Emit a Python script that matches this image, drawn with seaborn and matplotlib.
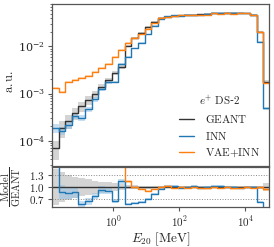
import numpy as np
import matplotlib
matplotlib.use("Agg")
import matplotlib.pyplot as plt
from matplotlib.ticker import NullLocator, FixedLocator, FixedFormatter
import seaborn as sns

# ===============================
# Data (bin contents, a.u.)
# ===============================

# log-spaced bins in E20 [MeV]
edges = 10 ** np.linspace(-1.85, 4.75, 34)

geant = [6.9e-5, 1.85e-4, 2.6e-4, 3.85e-4, 5.4e-4, 7.3e-4, 9.8e-4, 1.37e-3, 1.94e-3, 2.73e-3, 3.66e-3,
         1.03e-2, 1.52e-2, 1.94e-2, 2.6e-2, 3.32e-2, 4.04e-2, 4.24e-2, 4.46e-2, 4.57e-2, 4.68e-2, 4.68e-2,
         4.8e-2, 4.91e-2, 5.03e-2, 5.03e-2, 5.16e-2, 5.16e-2, 5.16e-2, 5.03e-2, 4.68e-2, 2.04e-2, 1.76e-3]

inn = [1.85e-4, 1.62e-4, 2.2e-4, 3.37e-4, 3.1e-4, 4.7e-4, 7.6e-4, 1.27e-3, 1.75e-3, 1.77e-3, 4.2e-3,
       6.0e-3, 9.1e-3, 1.2e-2, 1.82e-2, 2.72e-2, 3.84e-2, 4.37e-2, 4.55e-2, 4.48e-2, 4.68e-2, 4.77e-2,
       4.75e-2, 4.91e-2, 5.18e-2, 5.13e-2, 5.21e-2, 5.16e-2, 5.06e-2, 5.03e-2, 4.68e-2, 1.26e-2, 4.9e-4]

vae_inn = [1.31e-3, 1.08e-3, 1.76e-3, 1.94e-3, 2.14e-3, 2.36e-3, 2.87e-3, 3.49e-3, 4.25e-3, 5.98e-3, 8.43e-3,
           1.18e-2, 1.52e-2, 1.84e-2, 2.34e-2, 3.15e-2, 4.04e-2, 4.32e-2, 4.37e-2, 4.57e-2, 4.63e-2, 4.73e-2,
           4.7e-2, 4.76e-2, 5.03e-2, 4.93e-2, 5.16e-2, 5.0e-2, 5.11e-2, 5.03e-2, 4.59e-2, 2.04e-2, 1.67e-3]

# relative uncertainties
geant_err = [0.45, 0.38, 0.32, 0.27, 0.23, 0.2, 0.17, 0.14, 0.12, 0.1, 0.08,
             0.05, 0.045, 0.04, 0.035, 0.03, 0.03, 0.03, 0.03, 0.03, 0.03, 0.03,
             0.03, 0.03, 0.03, 0.03, 0.03, 0.03, 0.03, 0.03, 0.03, 0.04, 0.1]
inn_err = [0.2, 0.2, 0.18, 0.16, 0.15, 0.13, 0.11, 0.1, 0.08, 0.07, 0.06,
           0.05, 0.04, 0.04, 0.03, 0.03, 0.03, 0.03, 0.03, 0.03, 0.03, 0.03,
           0.03, 0.03, 0.03, 0.03, 0.03, 0.03, 0.03, 0.03, 0.03, 0.04, 0.08]
vae_err = [0.06, 0.06, 0.05, 0.05, 0.05, 0.05, 0.04, 0.04, 0.04, 0.04, 0.04,
           0.03, 0.03, 0.03, 0.03, 0.03, 0.03, 0.03, 0.03, 0.03, 0.03, 0.03,
           0.03, 0.03, 0.03, 0.03, 0.03, 0.03, 0.03, 0.03, 0.03, 0.04, 0.06]

labels = ["GEANT", "INN", "VAE+INN"]
colors = ["#333333", "#1f77b4", "#ff7f0e"]
band_colors = ["#aaaaaa", "#8fc0e6", "#ffc08a"]

# ===============================
# Style
# ===============================

sns.set_theme(style="ticks")
plt.rcParams["font.family"] = ["DejaVu Serif"]
plt.rcParams["mathtext.fontset"] = "cm"
plt.rcParams["axes.edgecolor"] = "#555555"
plt.rcParams["axes.linewidth"] = 0.9

fig = plt.figure(figsize=(2.74, 2.47), dpi=100)
ax = fig.add_axes([0.190, 0.328, 0.792, 0.656])
rax = fig.add_axes([0.190, 0.162, 0.792, 0.160], sharex=ax)


def step(a, vals, color, label=None, lw=1.0):
    y = np.append(vals, vals[-1])
    sns.lineplot(x=edges, y=y, drawstyle="steps-post", color=color, lw=lw,
                 estimator=None, sort=False, ax=a, label=label)


def band(a, lo, hi, color, alpha=0.5):
    lo = np.append(lo, lo[-1])
    hi = np.append(hi, hi[-1])
    a.fill_between(edges, lo, hi, step="post", color=color, alpha=alpha, lw=0)


series = [np.array(geant), np.array(inn), np.array(vae_inn)]
errs = [np.array(geant_err), np.array(inn_err), np.array(vae_err)]

# main panel
for vals, err, bcol in zip(series, errs, band_colors):
    band(ax, vals * (1 - err), vals * (1 + err), bcol)
for vals, col, lab in zip(series, colors, labels):
    step(ax, vals, col, label=lab)

ax.set_xscale("log")
ax.set_yscale("log")
ax.set_xlim(10 ** -1.85, 10 ** 4.72)
ax.set_ylim(2.9e-5, 8e-2)
ax.set_ylabel(r"$\mathrm{a.u.}$", fontsize=9)
ax.yaxis.set_label_coords(-0.165, 0.52)
ax.set_xlabel("")
ax.tick_params(axis="x", labelbottom=False)
ax.tick_params(axis="y", labelsize=8, length=3, width=0.8, color="#555555", pad=2)
ax.tick_params(axis="y", which="minor", length=1.8, width=0.6, color="#555555")
ax.xaxis.set_minor_locator(NullLocator())

leg = ax.legend(title=r"$e^{+}\ \mathrm{DS}$-$2$", loc="lower right", frameon=False,
                fontsize=8, title_fontsize=8, handlelength=1.3, handletextpad=1.0,
                labelspacing=0.45, bbox_to_anchor=(0.99, 0.0), borderaxespad=0.2)
for t in leg.get_texts():
    t.set_text(r"$\mathrm{" + t.get_text().replace("+", "{+}") + "}$")

# ratio panel
geant_a = series[0]
rax.axhline(1.3, color="#888888", lw=0.7, ls=":")
rax.axhline(0.7, color="#888888", lw=0.7, ls=":")
band(rax, 1 - errs[0], 1 + errs[0], band_colors[0])
for vals, err, bcol in zip(series[1:], errs[1:], band_colors[1:]):
    r = vals / geant_a
    band(rax, r * (1 - err), r * (1 + err), bcol)
step(rax, geant_a / geant_a, colors[0])
for vals, col in zip(series[1:], colors[1:]):
    step(rax, vals / geant_a, col)

rax.set_ylim(0.5, 1.5)
rax.yaxis.set_major_locator(FixedLocator([0.7, 1.0, 1.3]))
rax.yaxis.set_major_formatter(FixedFormatter([r"$0.7$", r"$1.0$", r"$1.3$"]))
rax.yaxis.set_minor_locator(NullLocator())
rax.xaxis.set_minor_locator(NullLocator())
rax.set_xticks([1e0, 1e2, 1e4])
rax.set_xticklabels([r"$10^{0}$", r"$10^{2}$", r"$10^{4}$"])
rax.set_xlim(10 ** -1.85, 10 ** 4.72)
rax.tick_params(labelsize=8, length=3, width=0.8, color="#555555", pad=2)
rax.set_ylabel(r"$\dfrac{\mathrm{Model}}{\mathrm{GEANT}}$", fontsize=7.5)
rax.yaxis.set_label_coords(-0.135, 0.5)
rax.set_xlabel(r"$E_{20}\ [\mathrm{MeV}]$", fontsize=9.5, labelpad=1)
if rax.get_legend() is not None:
    rax.get_legend().remove()

fig.savefig("out.png", dpi=100)
